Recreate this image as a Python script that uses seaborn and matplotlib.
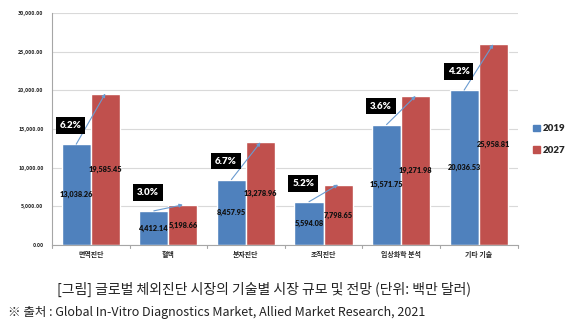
import matplotlib
matplotlib.use("Agg")
import matplotlib.pyplot as plt
import seaborn as sns
import pandas as pd
import numpy as np
from matplotlib.ticker import FuncFormatter
from matplotlib.patches import Patch

categories = ["면역진단", "혈액", "분자진단", "조직진단", "임상화학 분석", "기타 기술"]
values_2019 = [13038.26, 4412.14, 8457.95, 5594.08, 15571.75, 20036.53]
values_2027 = [19585.45, 5198.66, 13278.96, 7798.65, 19271.98, 25958.81]
growth = ["6.2%", "3.0%", "6.7%", "5.2%", "3.6%", "4.2%"]
years = ["2019", "2027"]
caption = "[그림] 글로벌 체외진단 시장의 기술별 시장 규모 및 전망 (단위: 백만 달러)"
source = "※ 출처 : Global In-Vitro Diagnostics Market, Allied Market Research, 2021"

df = pd.DataFrame({
    "category": categories * 2,
    "year": [years[0]] * len(categories) + [years[1]] * len(categories),
    "value": values_2019 + values_2027,
})

sns.set_theme(style="white")
plt.rcParams["font.family"] = ["Noto Sans CJK KR", "DejaVu Sans"]
NUMFONT = ["Lato", "DejaVu Sans"]

fig = plt.figure(figsize=(5.75, 3.26), dpi=100)
ax = fig.add_axes([0.0904, 0.2485, 0.8096, 0.7115])

palette = {"2019": "#4F81BD", "2027": "#C0504D"}
sns.barplot(data=df, x="category", y="value", hue="year", palette=palette,
            width=0.75, gap=0, saturation=1, ax=ax, legend=False)

ax.set_ylim(0, 30000)
ax.set_xlim(-0.5, len(categories) - 0.5)
ax.set_yticks(np.arange(0, 30001, 5000))
ax.yaxis.set_major_formatter(FuncFormatter(lambda v, p: f"{v:,.2f}"))
ax.grid(axis="y", color="#D9D9D9", linewidth=0.8)
ax.set_axisbelow(True)
ax.set_xlabel("")
ax.set_ylabel("")
for s in ["top", "right"]:
    ax.spines[s].set_visible(False)
for s in ["left", "bottom"]:
    ax.spines[s].set_color("#A6A6A6")
    ax.spines[s].set_linewidth(0.8)

ax.tick_params(axis="y", labelsize=3.8, length=2, color="#A6A6A6", width=0.6, pad=4)
for t in ax.get_yticklabels():
    t.set_fontweight("bold")
ax.tick_params(axis="x", labelsize=5, length=0, pad=4)
for t in ax.get_xticklabels():
    t.set_fontweight("bold")
# category separators on the x axis
for b in np.arange(-0.5, len(categories), 1.0):
    ax.plot([b, b], [0, -0.012], transform=ax.get_xaxis_transform(),
            color="#A6A6A6", lw=0.8, clip_on=False)

# value labels
for cont in ax.containers:
    ax.bar_label(cont, labels=[f"{v:,.2f}" for v in cont.datavalues],
                 label_type="center", fontsize=5.3, fontweight="heavy",
                 color="#111111", family=NUMFONT)

# growth arrows and boxes
c0, c1 = ax.containers[0], ax.containers[1]
for i, g in enumerate(growth):
    b0 = c0.patches[i]
    b1 = c1.patches[i]
    x0 = b0.get_x() + b0.get_width() / 2
    x1 = b1.get_x() + b1.get_width() / 2
    ax.annotate("", xy=(x1, b1.get_height()), xytext=(x0, b0.get_height()),
                arrowprops=dict(arrowstyle="-|>", color="#6A9BD0", lw=0.8,
                                mutation_scale=5, shrinkA=0, shrinkB=0))
    ax.text(i - 0.26, b0.get_height() + 2400, g, ha="center", va="center",
            fontsize=7, color="white", fontweight="heavy", family=NUMFONT,
            bbox=dict(boxstyle="square,pad=0.4", fc="black", ec="none"))

# legend
handles = [Patch(color=palette[y]) for y in years]
fig.legend(handles, years, loc="upper left", bbox_to_anchor=(0.912, 0.645),
           frameon=False, handlelength=0.7, handleheight=0.7,
           handletextpad=0.3, labelspacing=1.3,
           prop=dict(family=NUMFONT, weight="heavy", size=7))

fig.text(0.459, 0.111, caption, ha="center", va="center", fontsize=10, color="#222222")
fig.text(0.014, 0.04, source, ha="left", va="center", fontsize=9, color="#222222")

fig.savefig("out.png", dpi=100)
